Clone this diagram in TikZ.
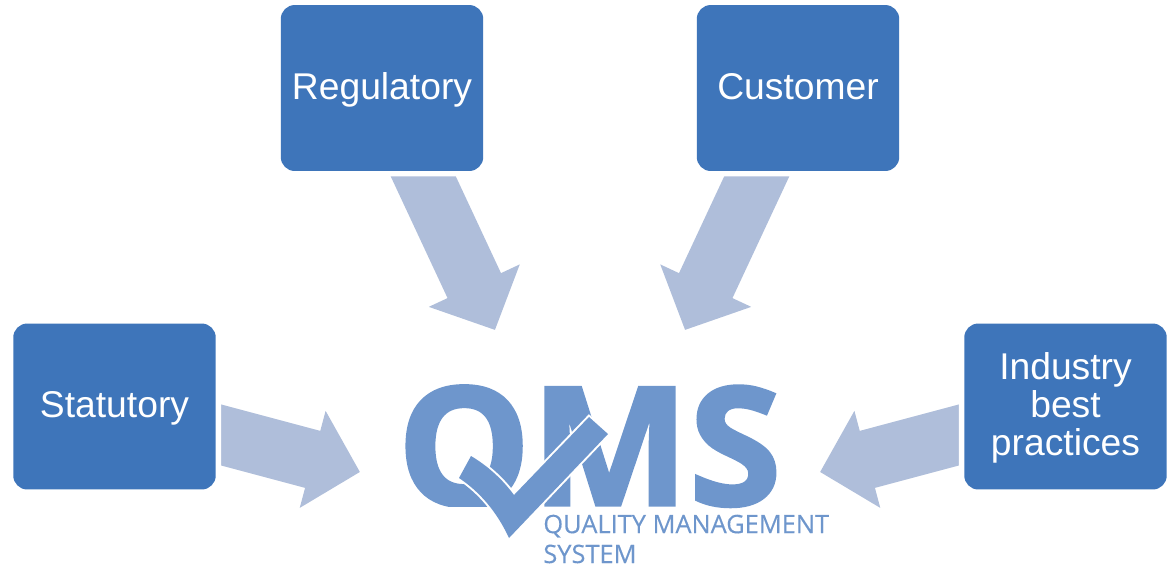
\documentclass[tikz,border=0pt]{standalone}
\usepackage{fontspec}
\setmainfont{Liberation Sans}
\newfontfamily\logofont[UprightFeatures={FakeBold=0.3},BoldFeatures={FakeBold=2,FakeStretch=1.02}]{Open Sans}
\usetikzlibrary{arrows.meta,backgrounds}
\definecolor{boxblue}{HTML}{3E75BA}
\definecolor{arrowblue}{HTML}{AFBEDA}
\definecolor{logoblue}{HTML}{6E96CC}
\tikzset{
    srcbox/.style={fill=boxblue, text=white, rounded corners=0.28cm, minimum width=4.05cm, minimum height=3.32cm,
        align=center, inner sep=0pt, text height=0.54cm, text depth=0.1cm, font=\fontsize{21.2}{21.6}\selectfont,
        preaction={draw=white, line width=0.22cm}},
    bigarrow/.style={arrowblue, line width=1.18cm, -{Triangle[width=1.95cm,length=0.98cm]}},
}
\begin{document}
\begin{tikzpicture}[x=0.02cm, y=-0.02cm]
    \useasboundingbox (0,0) rectangle (1173,566);

    % Source boxes
    \node[srcbox] (Reg) at (382,88) {Regulatory};
    \node[srcbox] (Cus) at (798,88) {Customer};
    \node[srcbox] (Sta) at (114.5,406.5) {Statutory};
    \node[srcbox, text height=2.06cm] (Ind) at (1065.5,406.5) {Industry\\best\\practices};

    % Arrow tips
    \coordinate (TipReg) at (495,330);
    \coordinate (TipCus) at (685,330);
    \coordinate (TipSta) at (360,472);
    \coordinate (TipInd) at (820,472);

    % Arrows, tails hidden by the white edge of the boxes
    \begin{scope}[on background layer]
        \draw[bigarrow] (Reg.center) -- (TipReg);
        \draw[bigarrow] (Cus.center) -- (TipCus);
        \draw[bigarrow] (Sta.center) -- (TipSta);
        \draw[bigarrow] (Ind.center) -- (TipInd);
    \end{scope}

    % Logo
    \node[anchor=base west, inner sep=0pt, text depth=0pt, text=logoblue, font=\logofont\bfseries\fontsize{93.6}{93.6}\selectfont] (qms) at (397,505) {QMS};
    \fill[white] (440,507) -- (530,507) -- (530,545) -- (440,545) -- cycle;
    \fill[logoblue, preaction={draw=white, line width=0.08cm}]
        (471,456) .. controls (488,466) and (503,480) .. (514,495)
        -- (589,417) -- (608,434) -- (509,538)
        .. controls (497,512) and (480,492) .. (459,478) -- cycle;
    \node[anchor=base west, inner sep=0pt, align=left, text depth=0pt, text=logoblue, font=\logofont\fontsize{14.45}{17}\selectfont] (qmstext) at (543,563) {QUALITY MANAGEMENT\\SYSTEM};
\end{tikzpicture}
\end{document}
